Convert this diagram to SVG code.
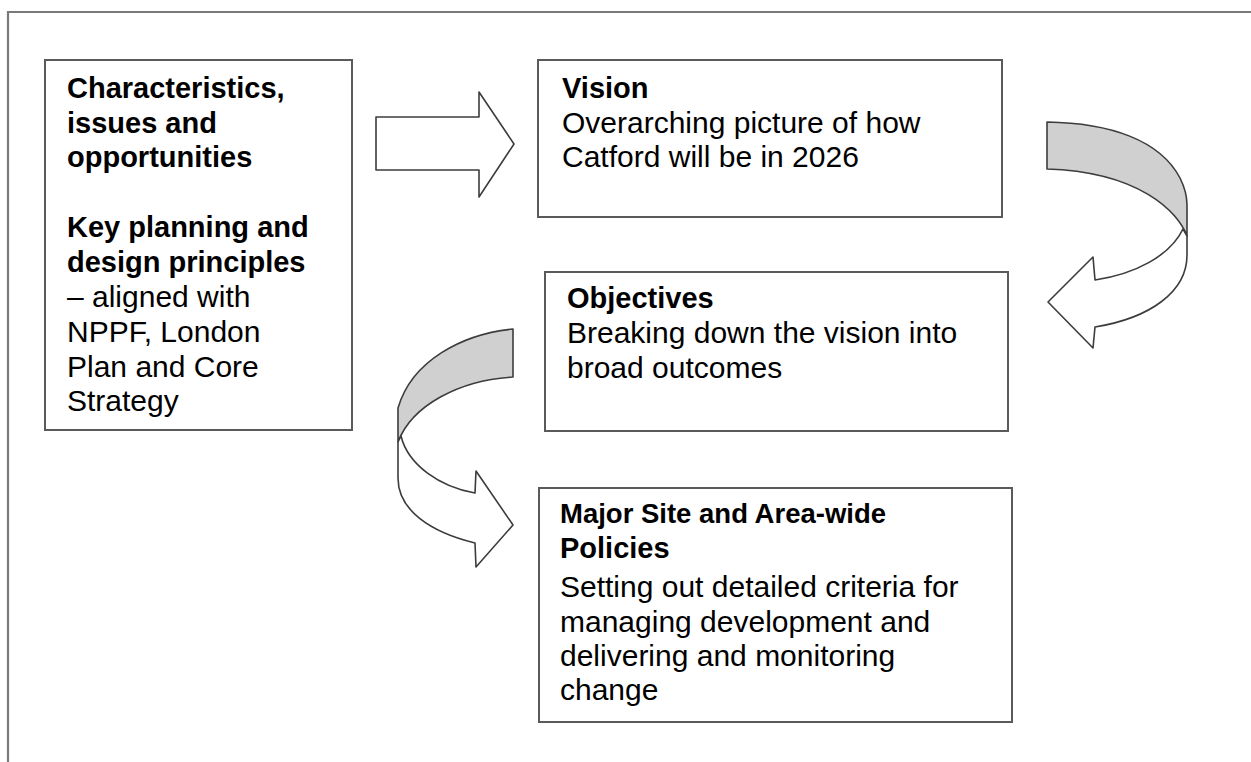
<svg xmlns="http://www.w3.org/2000/svg" width="1251" height="762" viewBox="0 0 1251 762">
  <style>
    .box { fill: #ffffff; stroke: #5a5a5a; stroke-width: 2; }
    .frame { fill: none; stroke: #7a7a7a; stroke-width: 2.2; }
    .band { fill: #d0d0d0; stroke: #3c3c3c; stroke-width: 1.6; stroke-linejoin: round; }
    .front { fill: #ffffff; stroke: #3c3c3c; stroke-width: 1.6; stroke-linejoin: round; }
    text { font-family: "Liberation Sans", Arial, sans-serif; fill: #000000; }
    .h { font-weight: bold; font-size: 29px; }
    .b { font-size: 30px; }
  </style>

  <!-- page frame -->
  <path class="frame" d="M8,762 L8,12 L1251,12"/>

  <!-- connectors -->
  <g id="connectors">
    <!-- straight block arrow -->
    <path class="front" d="M376,117 L479,117 L479,92 L514,144 L479,197 L479,170 L376,170 Z"/>
    <!-- curved arrow: vision to objectives -->
    <g id="curve-right">
      <path class="band" d="M1047,122 C1110,123 1160,140 1180,178 C1185,188 1187,196 1187,205 L1187,236 C1178,212 1140,172 1047,169 Z"/>
      <path class="front" d="M1183,229 C1170,256 1135,274 1095,280 L1093,257 L1048,302 L1093,348 L1095,327 C1150,318 1187,292 1187,255 L1187,236 Z"/>
    </g>
    <!-- curved arrow: objectives to major sites -->
    <g id="curve-left">
      <path class="band" d="M513,329 C463,334 412,360 398,408 L398,442 C412,405 460,380 513,377 Z"/>
      <path class="front" d="M401,436 C408,465 440,487 475,493 L476,471 L513,525 L476,567 L475,543 C430,532 398,510 398,478 L398,442 Z"/>
    </g>
  </g>

  <g id="node-context">
    <rect class="box" x="45" y="60" width="307" height="370"/>
    <text class="h" x="67" y="98">Characteristics,</text>
    <text class="h" x="67" y="132.5">issues and</text>
    <text class="h" x="67" y="167">opportunities</text>
    <text class="h" x="67" y="237">Key planning and</text>
    <text class="h" x="67" y="272">design principles</text>
    <text class="b" x="67" y="307">– aligned with</text>
    <text class="b" x="67" y="342">NPPF, London</text>
    <text class="b" x="67" y="377">Plan and Core</text>
    <text class="b" x="67" y="411">Strategy</text>
  </g>

  <g id="node-vision">
    <rect class="box" x="538" y="60" width="464" height="157"/>
    <text class="h" x="562" y="98">Vision</text>
    <text class="b" x="562" y="133">Overarching picture of how</text>
    <text class="b" x="562" y="167">Catford will be in 2026</text>
  </g>

  <g id="node-objectives">
    <rect class="box" x="545" y="272" width="463" height="159"/>
    <text class="h" x="567" y="308">Objectives</text>
    <text class="b" x="567" y="343">Breaking down the vision into</text>
    <text class="b" x="567" y="378">broad outcomes</text>
  </g>

  <g id="node-policies">
    <rect class="box" x="539" y="488" width="473" height="234"/>
    <text class="h" x="560" y="523" style="font-size:27.5px">Major Site and Area-wide</text>
    <text class="h" x="560" y="558">Policies</text>
    <text class="b" x="560" y="597">Setting out detailed criteria for</text>
    <text class="b" x="560" y="632">managing development and</text>
    <text class="b" x="560" y="666">delivering and monitoring</text>
    <text class="b" x="560" y="700">change</text>
  </g>
</svg>
